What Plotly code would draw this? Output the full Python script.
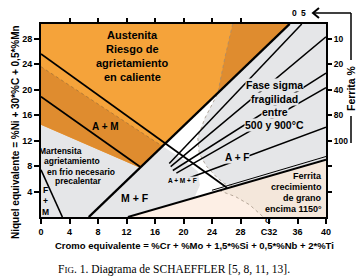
import plotly.graph_objects as go

# ---------------- data (Cr_eq, Ni_eq) ----------------
x_tick_vals = [0, 4, 8, 12, 16, 20, 24, 28, 32, 36, 40]
x_tick_text = ["0", "4", "8", "12", "16", "20", "24", "28", "C32", "36", "40"]
y_tick_vals = [4, 8, 12, 16, 20, 24, 28]
top_tick_vals = [4, 8, 12, 16, 20, 24, 28]
ferrite_tick_vals = [28, 24, 20, 16, 12, 8, 4]
ferrite_tick_text = ["10", "20", "40", "80", "100", "", ""]

X_MAX = 40
Y_MAX = 30.3

# phase-boundary lines
a_am_x = [0, 26.1];   a_am_y = [25.6, 4.6]
am_m_x = [0, 14.0];   am_m_y = [18.9, 7.8]
f0_x = [6.7, 34.9];   f0_y = [0, 30.3]
fm_x = [0, 3.0];      fm_y = [7.4, 0]
f100_x = [12.2, 40];  f100_y = [0, 9.0]
f100b_x = [24.0, 40]; f100b_y = [4.2, 9.5]
f5_x = [18.0, 36.6];  f5_y = [8.4, 30.3]
f10_x = [18.2, 40];   f10_y = [7.9, 28.3]
f20_x = [18.5, 40];   f20_y = [7.3, 22.6]
f40_x = [19.0, 40];   f40_y = [6.9, 20.3]
f80_x = [20.5, 40];   f80_y = [6.0, 14.1]

# problem zones
hot_x = [0, 34.9, 13.9, 0];            hot_y = [30.3, 30.3, 7.73, 14.5]
mart_x = [0, 0, 17.06, 20.0, 22.0, 22.3, 21.5, 12.2]
mart_y = [0, 23.6, 11.1, 9.0, 7.2, 5.0, 3.0, 0]
hot_mart_x = [0, 17.06, 13.9, 0];      hot_mart_y = [23.6, 11.1, 7.73, 14.5]
sigma_edge_x = [26.9, 25.8, 24.8, 23.0, 22.0, 22.2, 23.2, 24.6, 25.8, 27.2]
sigma_edge_y = [30.3, 25.0, 19.4, 15.5, 12.5, 10.0, 8.0, 6.3, 5.2, 4.85]
sigma_x = sigma_edge_x + [40, 40];     sigma_y = sigma_edge_y + [9.0, 30.3]
hot_sigma_x = [26.9, 25.8, 24.8, 34.9]; hot_sigma_y = [30.3, 25.0, 19.4, 30.3]
fm_zone_x = [12.2, 40, 40];            fm_zone_y = [0, 9.0, 0]
grain_edge_x = [25.0, 27.3, 29.3, 31.2]; grain_edge_y = [4.15, 3.2, 1.9, 0]
grain_x = grain_edge_x + [40, 40];     grain_y = grain_edge_y + [0, 9.0]

# ---------------- style ----------------
ORANGE = "#F5A33A"
DARK_ORANGE = "#DF8C2F"
GRAY = "#E5E6E8"
PEACH = "#FDEFE5"
BEIGE = "#F4E7DB"
FONT = "Liberation Sans, Arial, sans-serif"
SERIF = "Liberation Serif, Times New Roman, serif"

L, R, T, B = 41, 35, 24, 62
W, H = 361, 279
PW, PH = W - L - R, H - T - B


def pp(px, py):
    return (px - L) / PW, (T + PH - py) / PH


fig = go.Figure()


def zone(x, y, color):
    fig.add_trace(go.Scatter(x=x, y=y, fill="toself", mode="lines", line=dict(width=0),
                             fillcolor=color, hoverinfo="skip", showlegend=False))


def line(x, y, width=1.6, color="black", dash="solid"):
    fig.add_trace(go.Scatter(x=x, y=y, mode="lines", line=dict(width=width, color=color, dash=dash),
                             hoverinfo="skip", showlegend=False))


zone(mart_x, mart_y, GRAY)
zone(sigma_x, sigma_y, GRAY)
zone(fm_zone_x, fm_zone_y, PEACH)
zone(grain_x, grain_y, BEIGE)
zone(hot_x, hot_y, ORANGE)
zone(hot_mart_x, hot_mart_y, DARK_ORANGE)
zone(hot_sigma_x, hot_sigma_y, DARK_ORANGE)

# dashed zone edges
line([0, 17.06], [23.6, 11.1], 0.7, "#9A6E3A", "dot")
line(sigma_edge_x, sigma_edge_y, 0.7, "#9A8A7A", "dot")
line(grain_edge_x, grain_edge_y, 0.7, "#9A8A7A", "dot")

# phase lines
line(a_am_x, a_am_y, 1.8)
line(am_m_x, am_m_y, 1.8)
line(f0_x, f0_y, 2.4)
line(fm_x, fm_y, 1.6)
line(f100_x, f100_y, 2.0)
line(f100b_x, f100b_y, 1.0)
for fx, fy in [(f5_x, f5_y), (f10_x, f10_y), (f20_x, f20_y), (f40_x, f40_y), (f80_x, f80_y)]:
    line(fx, fy, 1.5)

# dummy trace for secondary axes
fig.add_trace(go.Scatter(x=[0], y=[0], xaxis="x2", yaxis="y2", mode="markers",
                         marker=dict(opacity=0), hoverinfo="skip", showlegend=False))

ann = []


def txt(x, y, s, size=10, xanchor="center", bg=None, ref="data", angle=0, family=FONT, bold=True):
    d = dict(x=x, y=y, text=(f"<b>{s}</b>" if bold else s), showarrow=False,
             font=dict(family=family, size=size, color="black"), xanchor=xanchor,
             yanchor="middle", textangle=angle)
    if ref == "paper":
        d.update(xref="paper", yref="paper")
    else:
        d.update(xref="x", yref="y")
    if bg:
        d.update(bgcolor=bg, borderpad=0)
    ann.append(d)


# region labels
txt(12.8, 28.6, "Austenita", 11)
txt(12.8, 26.4, "Riesgo de", 11)
txt(12.8, 24.2, "agrietamiento", 11)
txt(12.8, 22.0, "en caliente", 11)
txt(9.0, 14.2, "A + M", 10)
txt(2.7, 10.4, "Martensita", 8.5)
txt(4.35, 8.8, "agrietamiento", 8.5)
txt(5.6, 7.1, "en frio necesario", 8.5)
txt(5.2, 5.7, "precalentar", 8.5)
txt(0.6, 2.45, "F<br>+<br>M", 8.5)
txt(13.2, 3.0, "M + F", 10.5)
txt(19.9, 5.7, "A + M + F", 6.5, bg=GRAY)
txt(27.5, 9.4, "A + F", 10, bg=GRAY)
txt(32.8, 20.75, "Fase sigma", 10.5, bg=GRAY)
txt(32.8, 18.55, "fragilidad", 10.5, bg=GRAY)
txt(32.8, 16.5, "entre", 10.5, bg=GRAY)
txt(32.8, 14.5, "500 y 900°C", 10.5, bg=GRAY)
txt(39.7, 6.45, "Ferrita", 9, "right")
txt(39.7, 4.7, "crecimiento", 9, "right")
txt(39.7, 3.0, "de grano", 9, "right")
txt(39.7, 1.26, "encima 1150°", 9, "right")

# outside texts
x0, y0 = pp(268, 220); txt(x0, y0, "C", 8, ref="paper")
x0, y0 = pp(294, 13); txt(x0, y0, "0", 8.5, ref="paper")
x0, y0 = pp(303, 13); txt(x0, y0, "5", 8.5, ref="paper")
x0, y0 = pp(351, 88); txt(x0, y0, "Ferrita %", 10.5, ref="paper", angle=-90)
x0, y0 = pp(194, 245); txt(x0, y0, "Cromo equivalente = %Cr + %Mo + 1,5*%Si + 0,5*%Nb + 2*%Ti", 9.5, ref="paper")
x0, y0 = pp(15, 132); txt(x0, y0, "Niquel equivalente = %Ni + 30*%C + 0,5*%Mn", 10, ref="paper", angle=-90)
x0, y0 = pp(174, 269)
txt(x0, y0, "F<span style='font-size:9px'>IG</span>. 1. Diagrama de SCHAEFFLER [5, 8, 11, 13].",
    11.5, ref="paper", family=SERIF, bold=False)

# ferrite-% arrow bracket (paper coords)
shapes = []
ax, ay_top = pp(351, 13)
_, ay1 = pp(351, 60)
_, ay2 = pp(351, 116)
_, ay3 = pp(351, 143)
tipx, _ = pp(313, 13)
shapes.append(dict(type="line", xref="paper", yref="paper", x0=ax, y0=ay_top, x1=ax, y1=ay1,
                   line=dict(color="black", width=1.5)))
shapes.append(dict(type="line", xref="paper", yref="paper", x0=ax, y0=ay2, x1=ax, y1=ay3,
                   line=dict(color="black", width=1.5)))
shapes.append(dict(type="line", xref="paper", yref="paper", x0=tipx, y0=ay_top, x1=ax, y1=ay_top,
                   line=dict(color="black", width=1.5)))
hx1, hy1 = pp(319, 8)
hx2, hy2 = pp(313, 13)
hx3, hy3 = pp(319, 18)
shapes.append(dict(type="path", xref="paper", yref="paper",
                   path=f"M {hx1} {hy1} L {hx2} {hy2} L {hx3} {hy3}",
                   line=dict(color="black", width=2)))

tickfont = dict(family=FONT, size=9, color="black", weight="bold")
fig.update_layout(
    width=W, height=H, margin=dict(l=L, r=R, t=T, b=B),
    paper_bgcolor="white", plot_bgcolor="white",
    showlegend=False,
    xaxis=dict(range=[0, X_MAX], tickvals=x_tick_vals, ticktext=x_tick_text, ticks="outside",
               ticklen=5, tickwidth=2,
               tickcolor="black", showline=True, linewidth=2, linecolor="black", mirror=True,
               showgrid=False, zeroline=False, tickfont=tickfont, fixedrange=True),
    yaxis=dict(range=[0, Y_MAX], tickvals=y_tick_vals, ticks="outside", ticklen=5, tickwidth=2,
               tickcolor="black", showline=True, linewidth=2, linecolor="black", mirror=True,
               showgrid=False, zeroline=False, tickfont=tickfont, fixedrange=True),
    xaxis2=dict(range=[0, X_MAX], overlaying="x", side="top", tickvals=top_tick_vals,
                showticklabels=False, ticks="outside", ticklen=5, tickwidth=2, tickcolor="black",
                showline=False, showgrid=False, zeroline=False, fixedrange=True),
    yaxis2=dict(range=[0, Y_MAX], overlaying="y", side="right", tickvals=ferrite_tick_vals,
                ticktext=ferrite_tick_text, ticks="outside", ticklen=5, tickwidth=2,
                tickcolor="black", showline=False, showgrid=False, zeroline=False,
                tickfont=dict(family=FONT, size=8.5, color="black", weight="bold"), fixedrange=True),
    annotations=ann,
    shapes=shapes,
)

fig.write_html("out.html", config={"displayModeBar": False},
               post_script="document.body.style.margin='0px';")
